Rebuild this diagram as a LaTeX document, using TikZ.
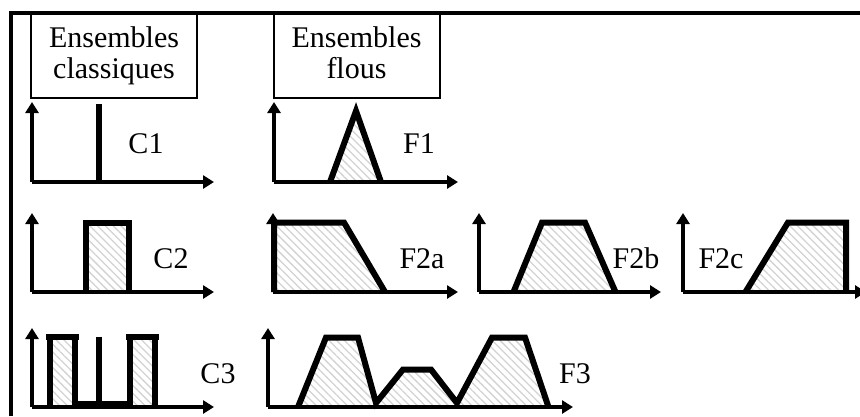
\documentclass[tikz,border=0pt]{standalone}
\usepackage{fontspec}
\setmainfont{Liberation Serif}
\usetikzlibrary{arrows.meta,patterns.meta}
\begin{document}
\begin{tikzpicture}[x=1pt,y=-1pt,
  axis/.style={line width=3.2pt,-{Triangle[length=11pt,width=13pt]}},
  thickline/.style={line width=6pt,line join=miter},
  hatch/.style={pattern={Lines[angle=-45,distance=5.5pt,line width=1.3pt]},pattern color=gray!35},
  titlebox/.style={draw,line width=2pt,minimum width=166pt,minimum height=84pt,align=center,inner sep=0pt,font=\fontsize{30}{31}\selectfont},
  lbl/.style={anchor=base,inner sep=0pt,font=\fontsize{30}{31}\selectfont}]
\useasboundingbox (0,0) rectangle (860,416);
% frame
\coordinate (fl) at (11,416);
\coordinate (fc) at (11,13);
\coordinate (fr) at (862,13);
\draw[line width=3.3pt] (fl) -- (fc) -- (fr);
% title boxes
\node[titlebox] (cls) at (114,56) {Ensembles\\classiques};
\node[titlebox] (fuz) at (356.5,56) {Ensembles\\flous\vphantom{q}};

% ---------- C1 ----------
\coordinate (c1o) at (32,182); \coordinate (c1y) at (32,102); \coordinate (c1x) at (214,182);
\coordinate (c1a) at (99,104); \coordinate (c1b) at (99,182);
\draw[thickline] (c1a) -- (c1b);
\draw[axis] (c1o) -- (c1y);
\draw[axis] (c1o) -- (c1x);
\node[lbl] (C1) at (146,153) {C1};

% ---------- F1 ----------
\coordinate (f1o) at (274,182); \coordinate (f1y) at (274,102); \coordinate (f1x) at (458,182);
\coordinate (f1a) at (330,182); \coordinate (f1b) at (356,111); \coordinate (f1c) at (381,182);
\fill[hatch] (f1a) -- (f1b) -- (f1c) -- cycle;
\draw[thickline] (f1a) -- (f1b) -- (f1c);
\draw[axis] (f1o) -- (f1y);
\draw[axis] (f1o) -- (f1x);
\node[lbl] (F1) at (419,153) {F1};

% ---------- C2 ----------
\coordinate (c2o) at (32,292); \coordinate (c2y) at (32,213); \coordinate (c2x) at (214,292);
\coordinate (c2a) at (86,292); \coordinate (c2b) at (86,222.5); \coordinate (c2c) at (128.5,222.5); \coordinate (c2d) at (128.5,292);
\fill[hatch] (c2a) -- (c2b) -- (c2c) -- (c2d) -- cycle;
\draw[thickline] (c2a) -- (c2b) -- (c2c) -- (c2d);
\draw[axis] (c2o) -- (c2y);
\draw[axis] (c2o) -- (c2x);
\node[lbl] (C2) at (171,268) {C2};

% ---------- F2a ----------
\coordinate (f2ao) at (273,292); \coordinate (f2ay) at (273,213); \coordinate (f2ax) at (458,292);
\coordinate (f2aa) at (274,292); \coordinate (f2ab) at (274,222.5); \coordinate (f2ac) at (344,222.5); \coordinate (f2ad) at (385,292);
\fill[hatch] (f2aa) -- (f2ab) -- (f2ac) -- (f2ad) -- cycle;
\draw[axis] (f2ao) -- (f2ay);
\draw[axis] (f2ao) -- (f2ax);
\draw[thickline] (f2aa) -- (f2ab) -- (f2ac) -- (f2ad);
\node[lbl] (F2a) at (422,268) {F2a};

% ---------- F2b ----------
\coordinate (f2bo) at (479,292); \coordinate (f2by) at (479,213); \coordinate (f2bx) at (661,292);
\coordinate (f2ba) at (513.5,292); \coordinate (f2bb) at (542,222.5); \coordinate (f2bc) at (585,222.5); \coordinate (f2bd) at (615.5,292);
\fill[hatch] (f2ba) -- (f2bb) -- (f2bc) -- (f2bd) -- cycle;
\draw[thickline] (f2ba) -- (f2bb) -- (f2bc) -- (f2bd);
\draw[axis] (f2bo) -- (f2by);
\draw[axis] (f2bo) -- (f2bx);
\node[lbl] (F2b) at (636,268) {F2b};

% ---------- F2c ----------
\coordinate (f2co) at (683,292); \coordinate (f2cy) at (683,213); \coordinate (f2cx) at (866,292);
\coordinate (f2ca) at (745.5,292); \coordinate (f2cb) at (788,222.5); \coordinate (f2cc) at (846,222.5); \coordinate (f2cd) at (846,292);
\fill[hatch] (f2ca) -- (f2cb) -- (f2cc) -- (f2cd) -- cycle;
\draw[thickline] (f2ca) -- (f2cb) -- (f2cc) -- (f2cd);
\draw[axis] (f2co) -- (f2cy);
\draw[axis] (f2co) -- (f2cx);
\node[lbl] (F2c) at (721,268) {F2c};

% ---------- C3 ----------
\coordinate (c3o) at (32,407); \coordinate (c3y) at (32,328); \coordinate (c3x) at (214,407);
\coordinate (c3a) at (50,407); \coordinate (c3b) at (50,336.5); \coordinate (c3c) at (74.5,336.5); \coordinate (c3d) at (74.5,403.5);
\coordinate (c3e) at (130,403.5); \coordinate (c3f) at (130,336.5); \coordinate (c3g) at (154.5,336.5); \coordinate (c3h) at (154.5,407);
\coordinate (c3m) at (99,336.5); \coordinate (c3n) at (99,403.5);
\fill[hatch] (c3a) -- (c3b) -- (c3c) -- (c3d |- c3a) -- cycle;
\fill[hatch] (c3e |- c3a) -- (c3f) -- (c3g) -- (c3h) -- cycle;
\draw[thickline] (c3a) -- (c3b) -- (c3c) -- (c3d) -- (c3e) -- (c3f) -- (c3g) -- (c3h);
\draw[thickline] (c3m) -- (c3n);
\draw[line width=6pt,line cap=rect] ([xshift=-1pt]c3b) -- ([xshift=1pt]c3c);
\draw[line width=6pt,line cap=rect] ([xshift=-1pt]c3f) -- ([xshift=1pt]c3g);
\draw[axis] (c3o) -- (c3y);
\draw[axis] (c3o) -- (c3x);
\node[lbl] (C3) at (218,383) {C3};

% ---------- F3 ----------
\coordinate (f3o) at (268,407); \coordinate (f3y) at (268,328); \coordinate (f3x) at (573,407);
\coordinate (p1) at (298,407); \coordinate (p2) at (326,337.5); \coordinate (p3) at (358,337.5);
\coordinate (p4) at (376,403); \coordinate (p5) at (403,369.5); \coordinate (p6) at (431,369.5);
\coordinate (p7) at (457,403); \coordinate (p8) at (492,337.5); \coordinate (p9) at (525,337.5); \coordinate (p10) at (548.5,407);
\fill[hatch] (p1) -- (p2) -- (p3) -- (p4) -- (p5) -- (p6) -- (p7) -- (p8) -- (p9) -- (p10) -- cycle;
\draw[thickline] (p1) -- (p2) -- (p3) -- (p4) -- (p5) -- (p6) -- (p7) -- (p8) -- (p9) -- (p10);
\draw[axis] (f3o) -- (f3y);
\draw[axis] (f3o) -- (f3x);
\node[lbl] (F3) at (575,383) {F3};
\end{tikzpicture}
\end{document}
